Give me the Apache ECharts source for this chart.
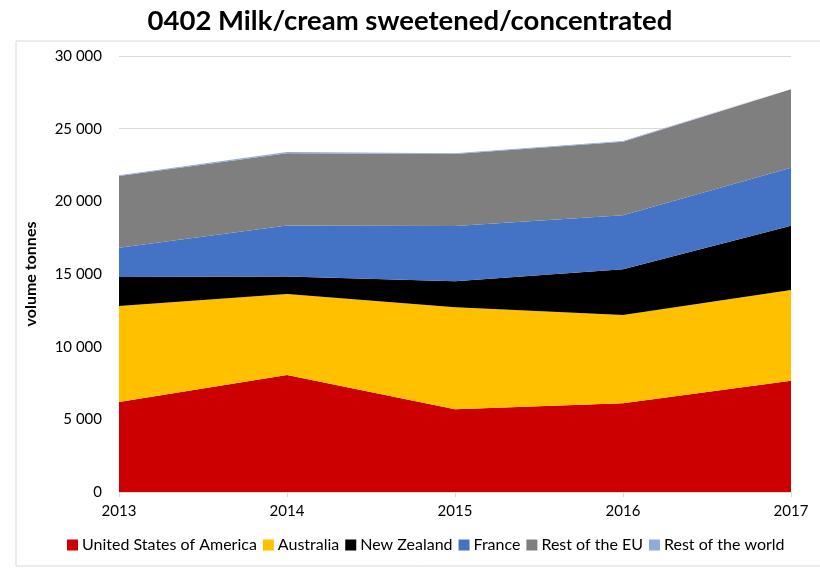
<!DOCTYPE html>
<html>
<head>
<meta charset="utf-8">
<script src="https://cdn.jsdelivr.net/npm/echarts@6/dist/echarts.min.js"></script>
<style>html,body{margin:0;padding:0;background:#fff;}#c{width:820px;height:570px;}</style>
</head>
<body>
<div id="c"></div>
<script>
const years = ['2013', '2014', '2015', '2016', '2017'];
const usa = [6200, 8050, 5700, 6100, 7650];
const australia = [6600, 5580, 7010, 6080, 6250];
const newZealand = [2000, 1190, 1790, 3150, 4420];
const france = [2000, 3510, 3800, 3710, 3990];
const restEU = [4940, 4970, 4950, 5060, 5410];
const restWorld = [60, 90, 60, 50, 40];

const names = ['United States of America', 'Australia', 'New Zealand', 'France', 'Rest of the EU', 'Rest of the world'];
const colors = ['#CC0000', '#FFC000', '#000000', '#4472C4', '#7F7F7F', '#8FAADC'];
const values = [usa, australia, newZealand, france, restEU, restWorld];

const font = 'Lato, "Open Sans", sans-serif';
const chart = echarts.init(document.getElementById('c'), null, {renderer: 'canvas'});
chart.setOption({
  animation: false,
  color: colors,
  title: {
    text: '0402 Milk/cream sweetened/concentrated',
    left: 'center', top: 2,
    textStyle: {fontFamily: font, fontWeight: 'bold', fontSize: 27.5, color: '#000'}
  },
  graphic: [{
    type: 'rect', shape: {x: 16, y: 41, width: 830, height: 525},
    style: {fill: 'none', stroke: '#d9d9d9', lineWidth: 1}, silent: true, z: -1
  }],
  grid: {left: 119, right: 29, top: 56, bottom: 78},
  legend: {
    bottom: 12, left: 62, itemWidth: 11, itemHeight: 11, itemGap: 6,
    icon: 'rect',
    textStyle: {fontFamily: font, fontSize: 16, color: '#000', padding: [0, 0, 0, -1]},
    data: names
  },
  xAxis: {
    type: 'category', data: years, boundaryGap: false,
    axisLine: {lineStyle: {color: '#d9d9d9'}},
    axisTick: {show: true, length: 5, lineStyle: {color: '#d9d9d9'}},
    axisLabel: {fontFamily: font, fontSize: 15, color: '#000', margin: 12}
  },
  yAxis: {
    type: 'value', min: 0, max: 30000, interval: 5000,
    name: 'volume tonnes', nameLocation: 'middle', nameGap: 80,
    nameTextStyle: {fontFamily: font, fontWeight: 'bold', fontSize: 16, color: '#000'},
    axisLine: {show: false}, axisTick: {show: false},
    splitLine: {lineStyle: {color: '#d9d9d9'}},
    axisLabel: {
      fontFamily: font, fontSize: 15, color: '#000', margin: 17,
      formatter: v => String(v).replace(/\B(?=(\d{3})+(?!\d))/g, ' ')
    }
  },
  series: names.map((n, i) => ({
    name: n, type: 'line', stack: 'total', data: values[i],
    symbol: 'none', lineStyle: {width: 0},
    areaStyle: {color: colors[i], opacity: 1},
    itemStyle: {color: colors[i]}
  }))
});
</script>
</body>
</html>
